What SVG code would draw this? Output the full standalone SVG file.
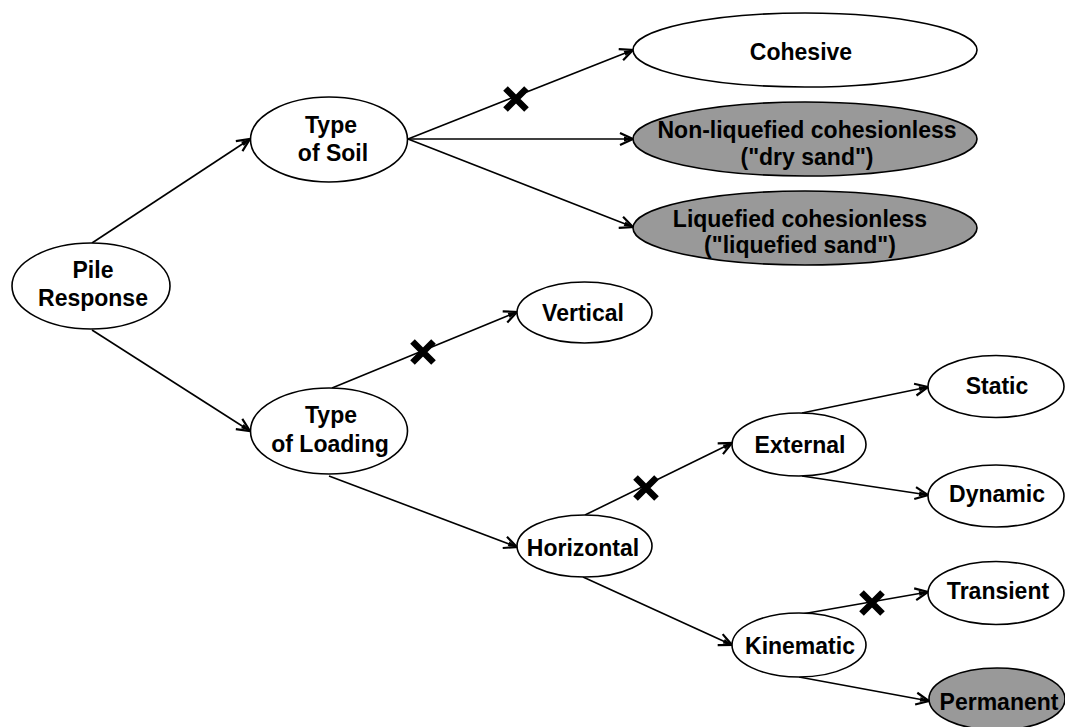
<svg xmlns="http://www.w3.org/2000/svg" width="1065" height="727" viewBox="0 0 1065 727">
<defs>
<marker id="arr" markerUnits="userSpaceOnUse" markerWidth="20" markerHeight="20" viewBox="-16 -8 20 16" refX="0" refY="0" orient="auto">
<path d="M-13,-6 L0,0 L-13,6" fill="none" stroke="#000" stroke-width="2.2" stroke-linejoin="miter"/>
<path d="M-9,-2.5 L0,0 L-9,2.5 Z" fill="#000"/>
</marker>
<g id="xmark"><path d="M-10.5,-10.5 L10.5,10.5 M-10.5,10.5 L10.5,-10.5" stroke="#000" stroke-width="6.5" fill="none"/></g>
</defs>
<style>
.n{fill:#fff;stroke:#000;stroke-width:1.6}
.g{fill:#999;stroke:#000;stroke-width:1.6}
.t{font-family:"Liberation Sans",Arial,sans-serif;font-weight:bold;font-size:23px;text-anchor:middle;fill:#000}
.c{stroke:#000;stroke-width:1.6;fill:none;marker-end:url(#arr)}
</style>
<rect width="1065" height="727" fill="#fff"/>
<g id="connectors">
<line class="c" x1="92" y1="243" x2="250" y2="139"/>
<line class="c" x1="92" y1="330" x2="250" y2="431"/>
<line class="c" x1="408" y1="139" x2="633" y2="50"/>
<line class="c" x1="408" y1="139" x2="633" y2="139"/>
<line class="c" x1="408" y1="139" x2="633" y2="227"/>
<line class="c" x1="332" y1="388" x2="517" y2="312"/>
<line class="c" x1="329" y1="476" x2="517" y2="547"/>
<line class="c" x1="585" y1="515" x2="732" y2="443"/>
<line class="c" x1="583" y1="577" x2="732" y2="645"/>
<line class="c" x1="802" y1="413" x2="928" y2="387"/>
<line class="c" x1="802" y1="476" x2="928" y2="495"/>
<line class="c" x1="802" y1="614" x2="928" y2="592"/>
<line class="c" x1="799" y1="677" x2="929" y2="701"/>
<use href="#xmark" x="516" y="99"/>
<use href="#xmark" x="423" y="352"/>
<use href="#xmark" x="646" y="488"/>
<use href="#xmark" x="872" y="603"/>
</g>
<g id="pile-response"><ellipse class="n" cx="91" cy="286" rx="79" ry="43"/><text class="t" x="93" y="278">Pile</text><text class="t" x="93" y="306">Response</text></g>
<g id="type-of-soil"><ellipse class="n" cx="329" cy="139.5" rx="78.5" ry="42.5"/><text class="t" x="331" y="133">Type</text><text class="t" x="333" y="161">of Soil</text></g>
<g id="type-of-loading"><ellipse class="n" cx="329" cy="431" rx="78.5" ry="43"/><text class="t" x="331" y="423">Type</text><text class="t" x="330" y="452">of Loading</text></g>
<g id="cohesive"><ellipse class="n" cx="805" cy="50" rx="172" ry="37"/><text class="t" x="801" y="60">Cohesive</text></g>
<g id="non-liquefied"><ellipse class="g" cx="805" cy="139" rx="172" ry="37"/><text class="t" x="807" y="138">Non-liquefied cohesionless</text><text class="t" x="807" y="165">("dry sand")</text></g>
<g id="liquefied"><ellipse class="g" cx="805" cy="228" rx="172" ry="37"/><text class="t" x="800" y="227">Liquefied cohesionless</text><text class="t" x="800" y="253">("liquefied sand")</text></g>
<g id="vertical"><ellipse class="n" cx="584.5" cy="312.5" rx="67.5" ry="30.5"/><text class="t" x="583" y="321">Vertical</text></g>
<g id="horizontal"><ellipse class="n" cx="584.5" cy="546" rx="67.5" ry="31"/><text class="t" x="583" y="556">Horizontal</text></g>
<g id="external"><ellipse class="n" cx="799" cy="444.5" rx="67" ry="31.5"/><text class="t" x="800" y="453">External</text></g>
<g id="kinematic"><ellipse class="n" cx="799" cy="645" rx="67" ry="32"/><text class="t" x="800" y="654">Kinematic</text></g>
<g id="static"><ellipse class="n" cx="996" cy="386.5" rx="68" ry="31"/><text class="t" x="997" y="394">Static</text></g>
<g id="dynamic"><ellipse class="n" cx="996" cy="496" rx="68" ry="31"/><text class="t" x="997" y="502">Dynamic</text></g>
<g id="transient"><ellipse class="n" cx="996" cy="593" rx="68" ry="31.5"/><text class="t" x="998" y="599">Transient</text></g>
<g id="permanent"><ellipse class="g" cx="997" cy="699" rx="68" ry="31"/><text class="t" x="999" y="710">Permanent</text></g>
</svg>
